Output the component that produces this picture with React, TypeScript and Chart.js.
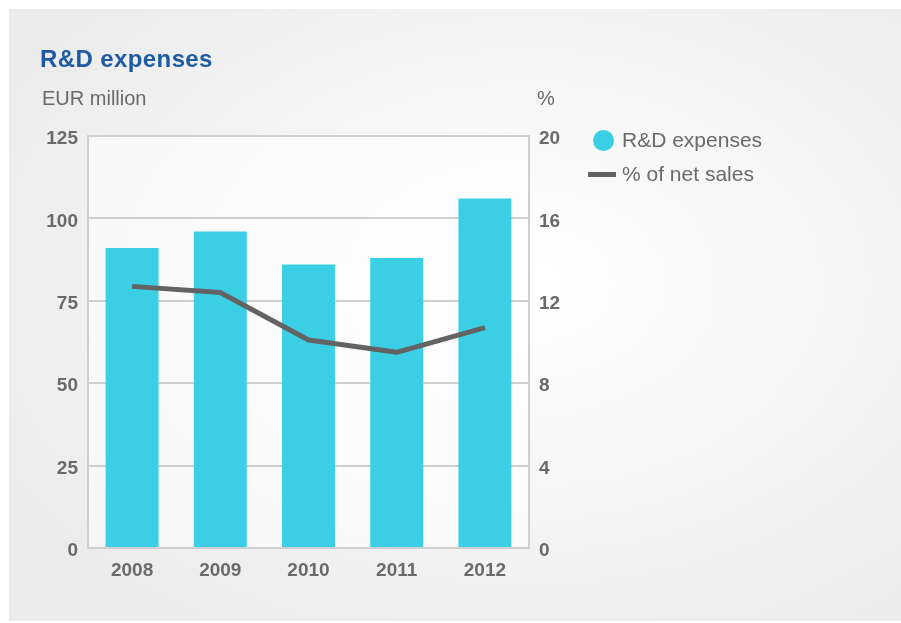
import React, { useEffect, useRef } from "react";
import { Chart, registerables } from "chart.js";

Chart.register(...registerables);

const categories = ["2008", "2009", "2010", "2011", "2012"];
const rdExpenses = [91, 96, 86, 88, 106];
const pctNetSales = [12.7, 12.4, 10.1, 9.5, 10.7];
const leftTicks = [0, 25, 50, 75, 100, 125];
const rightTicks = [0, 4, 8, 12, 16, 20];

const W = 901;
const H = 623;
const BAR = "#3BCFE6";
const LINE = "#636363";
const GRID = "#cfcfcf";
const TICK = "#6a6a6a";

const plotBg = {
  id: "plotBg",
  beforeDraw(chart: any) {
    const { ctx, chartArea } = chart;
    ctx.save();
    ctx.fillStyle = "rgba(255,255,255,0.55)";
    ctx.fillRect(chartArea.left, chartArea.top, chartArea.right - chartArea.left, chartArea.bottom - chartArea.top);
    ctx.restore();
  },
};

export default function App() {
  const ref = useRef<HTMLCanvasElement>(null);

  useEffect(() => {
    if (!ref.current) return;
    const tickFont = { family: "'Liberation Sans', Arial, sans-serif", size: 19, weight: "bold" as const };
    const chart = new Chart(ref.current, {
      type: "bar",
      data: {
        labels: categories,
        datasets: [
          {
            type: "line" as const,
            label: "% of net sales",
            data: pctNetSales,
            yAxisID: "y1",
            borderColor: LINE,
            borderWidth: 5,
            pointRadius: 0,
            borderCapStyle: "butt",
            borderJoinStyle: "round",
            tension: 0,
            order: 0,
          } as any,
          {
            type: "bar" as const,
            label: "R&D expenses",
            data: rdExpenses,
            yAxisID: "y",
            backgroundColor: BAR,
            barPercentage: 0.6,
            categoryPercentage: 1,
            order: 1,
          },
        ],
      },
      options: {
        responsive: false,
        animation: false,
        layout: { padding: { top: 136, left: 0, right: 0, bottom: 0 } },
        plugins: { legend: { display: false }, tooltip: { enabled: false }, title: { display: false } },
        scales: {
          x: {
            grid: { display: false, drawTicks: false },
            border: { display: true, color: GRID, width: 2 },
            ticks: { color: TICK, font: tickFont, padding: 11 },
            afterFit: (s: any) => {
              s.height = H - 548;
            },
          },
          y: {
            position: "left",
            min: leftTicks[0],
            max: leftTicks[leftTicks.length - 1],
            afterBuildTicks: (s: any) => {
              s.ticks = leftTicks.map((v) => ({ value: v }));
            },
            grid: { color: GRID, lineWidth: 2, drawTicks: false },
            border: { display: true, color: GRID, width: 2 },
            ticks: { color: TICK, font: tickFont, padding: 10, labelOffset: 3 },
            afterFit: (s: any) => {
              s.width = 88;
            },
          },
          y1: {
            position: "right",
            min: rightTicks[0],
            max: rightTicks[rightTicks.length - 1],
            afterBuildTicks: (s: any) => {
              s.ticks = rightTicks.map((v) => ({ value: v }));
            },
            grid: { display: false, drawTicks: false },
            border: { display: true, color: GRID, width: 2 },
            ticks: { color: TICK, font: tickFont, padding: 10, labelOffset: 3 },
            afterFit: (s: any) => {
              s.width = W - 529;
            },
          },
        },
      },
      plugins: [plotBg],
    });
    return () => chart.destroy();
  }, []);

  const textFont = "'Liberation Sans', Arial, sans-serif";

  return (
    <div style={{ position: "fixed", left: 0, top: 0, width: W, height: H, background: "#fff", overflow: "hidden", fontFamily: textFont }}>
      <div
        style={{
          position: "absolute",
          left: 9,
          top: 9,
          width: W - 9,
          height: 612,
          background: "radial-gradient(ellipse 65% 65% at 58% 45%, #ffffff 0%, #f6f6f6 50%, #ececec 100%)",
        }}
      />
      <canvas ref={ref} width={W} height={H} style={{ position: "absolute", left: 0, top: 0, width: W, height: H }} />
      <div style={{ position: "absolute", left: 40, top: 45, fontSize: 24, letterSpacing: 0.4, fontWeight: "bold", color: "#1D5BA4", whiteSpace: "nowrap" }}>
        R&amp;D expenses
      </div>
      <div style={{ position: "absolute", left: 42, top: 87, fontSize: 20, color: "#6a6a6a", whiteSpace: "nowrap" }}>EUR million</div>
      <div style={{ position: "absolute", left: 537, top: 87, fontSize: 20, color: "#6a6a6a", whiteSpace: "nowrap" }}>%</div>
      <div style={{ position: "absolute", left: 593, top: 130, width: 21, height: 21, borderRadius: "50%", background: BAR }} />
      <div style={{ position: "absolute", left: 622, top: 128, fontSize: 21, color: "#6a6a6a", whiteSpace: "nowrap" }}>R&amp;D expenses</div>
      <div style={{ position: "absolute", left: 588, top: 172, width: 28, height: 5, background: LINE }} />
      <div style={{ position: "absolute", left: 622, top: 162, fontSize: 21, color: "#6a6a6a", whiteSpace: "nowrap" }}>% of net sales</div>
    </div>
  );
}
